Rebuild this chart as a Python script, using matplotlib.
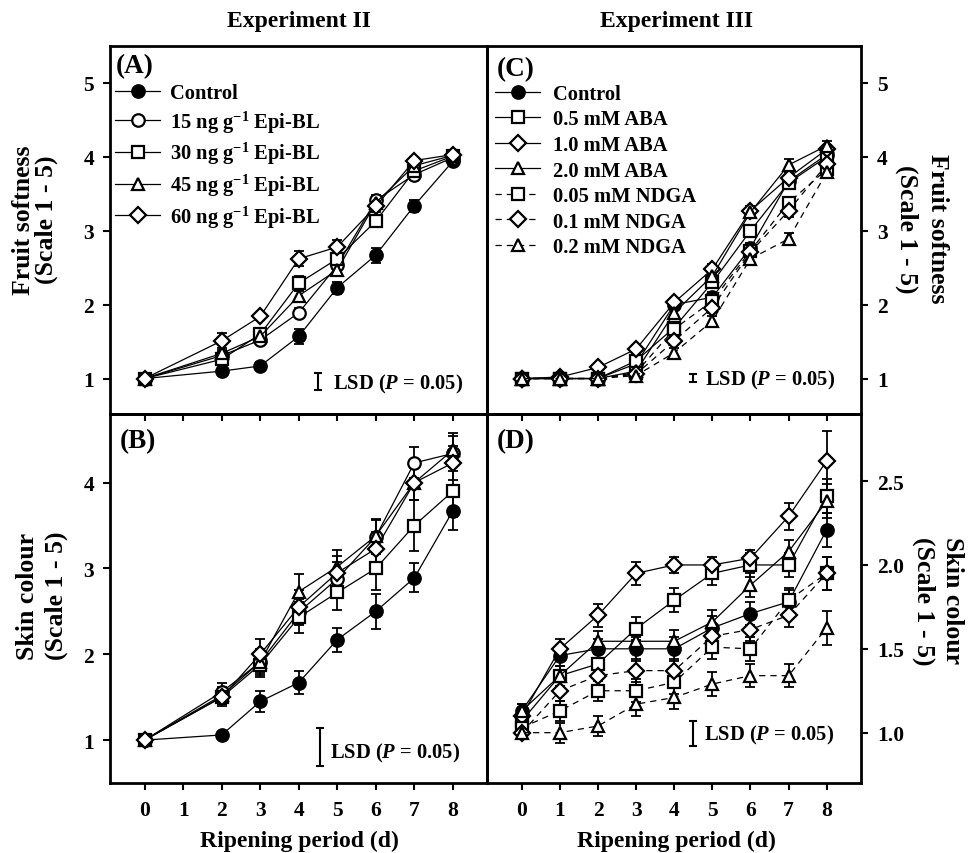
import matplotlib
matplotlib.use('Agg')
import matplotlib.pyplot as plt

plt.rcParams['font.family'] = ['Liberation Serif', 'DejaVu Serif']
plt.rcParams['font.weight'] = 'bold'
plt.rcParams['mathtext.fontset'] = 'custom'
plt.rcParams['mathtext.rm'] = 'Liberation Serif:bold'
plt.rcParams['mathtext.it'] = 'Liberation Serif:bold:italic'
plt.rcParams['mathtext.bf'] = 'Liberation Serif:bold'
plt.rcParams['mathtext.default'] = 'rm'

# ---------------- data ----------------
days_exp2 = [0, 2, 3, 4, 5, 6, 7, 8]
days_exp3 = [0, 1, 2, 3, 4, 5, 6, 7, 8]

labels_exp2 = ['Control', r'15 ng g$^{-1}$ Epi-BL', r'30 ng g$^{-1}$ Epi-BL',
               r'45 ng g$^{-1}$ Epi-BL', r'60 ng g$^{-1}$ Epi-BL']
labels_exp3 = ['Control', '0.5 mM ABA', '1.0 mM ABA', '2.0 mM ABA',
               '0.05 mM NDGA', '0.1 mM NDGA', '0.2 mM NDGA']

# (A) fruit softness, experiment II
soft2_control = [1.00, 1.10, 1.17, 1.57, 2.23, 2.67, 3.34, 3.94]
soft2_bl15 = [1.00, 1.31, 1.52, 1.89, 2.53, 3.41, 3.76, 3.99]
soft2_bl30 = [1.00, 1.26, 1.60, 2.29, 2.62, 3.13, 3.81, 4.01]
soft2_bl45 = [1.00, 1.34, 1.57, 2.12, 2.47, 3.38, 3.88, 4.02]
soft2_bl60 = [1.00, 1.51, 1.84, 2.62, 2.78, 3.33, 3.95, 4.03]
soft2_err_control = [0.02, 0.05, 0.06, 0.10, 0.08, 0.10, 0.08, 0.05]
soft2_err_bl15 = [0.02, 0.05, 0.05, 0.06, 0.08, 0.08, 0.08, 0.05]
soft2_err_bl30 = [0.02, 0.05, 0.06, 0.10, 0.08, 0.08, 0.06, 0.04]
soft2_err_bl45 = [0.02, 0.05, 0.06, 0.08, 0.08, 0.07, 0.06, 0.04]
soft2_err_bl60 = [0.02, 0.10, 0.05, 0.10, 0.10, 0.08, 0.05, 0.04]

# (B) skin colour, experiment II
skin2_control = [1.00, 1.06, 1.45, 1.67, 2.17, 2.50, 2.89, 3.67]
skin2_bl15 = [1.00, 1.56, 1.91, 2.49, 2.88, 3.37, 4.23, 4.34]
skin2_bl30 = [1.00, 1.50, 1.88, 2.43, 2.72, 3.00, 3.50, 3.90]
skin2_bl45 = [1.00, 1.52, 1.91, 2.73, 3.02, 3.38, 4.00, 4.38]
skin2_bl60 = [1.00, 1.50, 2.00, 2.55, 2.95, 3.23, 4.00, 4.23]
skin2_err_control = [0.02, 0.03, 0.12, 0.13, 0.14, 0.20, 0.17, 0.22]
skin2_err_bl15 = [0.02, 0.10, 0.15, 0.15, 0.20, 0.20, 0.18, 0.20]
skin2_err_bl30 = [0.02, 0.10, 0.15, 0.18, 0.20, 0.25, 0.30, 0.30]
skin2_err_bl45 = [0.02, 0.10, 0.13, 0.20, 0.20, 0.20, 0.20, 0.20]
skin2_err_bl60 = [0.02, 0.08, 0.18, 0.20, 0.20, 0.20, 0.20, 0.20]

# (C) fruit softness, experiment III
soft3_control = [1.00, 1.00, 1.00, 1.20, 2.00, 2.10, 2.77, 3.67, 4.03]
soft3_aba05 = [1.00, 1.00, 1.00, 1.24, 1.69, 2.30, 3.00, 3.65, 4.00]
soft3_aba10 = [1.00, 1.02, 1.15, 1.40, 2.03, 2.48, 3.27, 3.72, 4.10]
soft3_aba20 = [1.00, 1.00, 1.00, 1.10, 1.89, 2.39, 3.25, 3.89, 4.15]
soft3_ndga005 = [1.00, 1.00, 1.00, 1.08, 1.67, 2.05, 2.73, 3.38, 3.83]
soft3_ndga01 = [1.00, 1.00, 1.00, 1.06, 1.51, 1.96, 2.71, 3.27, 3.90]
soft3_ndga02 = [1.00, 1.00, 1.00, 1.04, 1.35, 1.78, 2.62, 2.89, 3.79]
soft3_err = [0.02, 0.02, 0.03, 0.06, 0.06, 0.07, 0.07, 0.08, 0.06]

# (D) skin colour, experiment III
skin3_control = [1.13, 1.46, 1.50, 1.50, 1.50, 1.625, 1.71, 1.78, 2.21]
skin3_aba05 = [1.07, 1.34, 1.41, 1.62, 1.79, 1.95, 2.00, 2.00, 2.41]
skin3_aba10 = [1.10, 1.50, 1.70, 1.95, 2.00, 2.00, 2.04, 2.29, 2.62]
skin3_aba20 = [1.13, 1.34, 1.545, 1.545, 1.545, 1.66, 1.88, 2.08, 2.38]
skin3_ndga005 = [1.03, 1.13, 1.25, 1.25, 1.30, 1.51, 1.50, 1.79, 1.95]
skin3_ndga01 = [1.00, 1.25, 1.34, 1.37, 1.37, 1.575, 1.615, 1.70, 1.95]
skin3_ndga02 = [1.00, 1.00, 1.04, 1.17, 1.21, 1.29, 1.34, 1.34, 1.625]
skin3_err = [0.04, 0.06, 0.06, 0.07, 0.07, 0.07, 0.07, 0.07, 0.10]
skin3_err_big = [0.04, 0.06, 0.07, 0.07, 0.05, 0.05, 0.05, 0.08, 0.18]

# LSD bars: (x, centre, half-length)
lsd_A = (4.5, 0.96, 0.11)
lsd_B = (4.54, 0.92, 0.22)
lsd_C = (4.5, 1.005, 0.055)
lsd_D = (4.5, 0.995, 0.075)

# ---------------- layout ----------------
W, H = 978, 854
fig = plt.figure(figsize=(W / 100, H / 100), dpi=100)

def fx(x):
    return x / W

def fy(y):
    return 1 - y / H

Lp, Mp, Rp = 110, 487.5, 861
Tp, Dp, Bp = 47, 415, 784

axA = fig.add_axes([fx(Lp), fy(Dp), fx(Mp) - fx(Lp), fy(Tp) - fy(Dp)])
axC = fig.add_axes([fx(Mp), fy(Dp), fx(Rp) - fx(Mp), fy(Tp) - fy(Dp)])
axB = fig.add_axes([fx(Lp), fy(Bp), fx(Mp) - fx(Lp), fy(Dp) - fy(Bp)])
axD = fig.add_axes([fx(Mp), fy(Bp), fx(Rp) - fx(Mp), fy(Dp) - fy(Bp)])

TICK_FS = 15.5
LEG_FS = 14.8

for ax in (axA, axB, axC, axD):
    ax.set_facecolor('none')
    for s in ax.spines.values():
        s.set_linewidth(2.0)
    ax.set_xlim(-0.9, 8.9)
    ax.set_xticks(range(0, 9))
    ax.tick_params(axis='both', direction='out', length=5, width=1.5,
                   labelsize=TICK_FS, pad=6.5)

for ax in (axA, axC):
    ax.set_ylim(0.52, 5.5)
    ax.set_yticks([1, 2, 3, 4, 5])
    ax.tick_params(axis='x', labelbottom=False)
axB.set_ylim(0.5, 4.8)
axB.set_yticks([1, 2, 3, 4])
axD.set_ylim(0.7, 2.9)
axD.set_yticks([1.0, 1.5, 2.0, 2.5])
axD.set_yticklabels(['1.0', '1.5', '2.0', '2.5'])
for ax in (axC, axD):
    ax.yaxis.tick_right()
    ax.tick_params(axis='y', left=False, right=True)
for ax in (axB, axD):
    ax.tick_params(axis='x', pad=7.5)

MS = {'o': 9.0, 's': 8.2, '^': 9.2, 'D': 7.8}

def series(ax, x, y, e, marker, filled, dashed, label):
    ls = (0, (5, 4)) if dashed else '-'
    ax.errorbar(x, y, yerr=e, fmt='none', ecolor='black', elinewidth=1.3,
                capsize=3.6, capthick=1.3, zorder=2)
    ax.plot(x, y, color='black', lw=0.9, linestyle=ls, marker=marker,
            ms=MS[marker], mfc='black' if filled else 'white', mec='black',
            mew=1.6, label=label, zorder=3)

# (A)
series(axA, days_exp2, soft2_control, soft2_err_control, 'o', True, False, labels_exp2[0])
series(axA, days_exp2, soft2_bl15, soft2_err_bl15, 'o', False, False, labels_exp2[1])
series(axA, days_exp2, soft2_bl30, soft2_err_bl30, 's', False, False, labels_exp2[2])
series(axA, days_exp2, soft2_bl45, soft2_err_bl45, '^', False, False, labels_exp2[3])
series(axA, days_exp2, soft2_bl60, soft2_err_bl60, 'D', False, False, labels_exp2[4])
# (B)
series(axB, days_exp2, skin2_control, skin2_err_control, 'o', True, False, None)
series(axB, days_exp2, skin2_bl15, skin2_err_bl15, 'o', False, False, None)
series(axB, days_exp2, skin2_bl30, skin2_err_bl30, 's', False, False, None)
series(axB, days_exp2, skin2_bl45, skin2_err_bl45, '^', False, False, None)
series(axB, days_exp2, skin2_bl60, skin2_err_bl60, 'D', False, False, None)
# (C)
series(axC, days_exp3, soft3_control, soft3_err, 'o', True, False, labels_exp3[0])
series(axC, days_exp3, soft3_aba05, soft3_err, 's', False, False, labels_exp3[1])
series(axC, days_exp3, soft3_aba10, soft3_err, 'D', False, False, labels_exp3[2])
series(axC, days_exp3, soft3_aba20, soft3_err, '^', False, False, labels_exp3[3])
series(axC, days_exp3, soft3_ndga005, soft3_err, 's', False, True, labels_exp3[4])
series(axC, days_exp3, soft3_ndga01, soft3_err, 'D', False, True, labels_exp3[5])
series(axC, days_exp3, soft3_ndga02, soft3_err, '^', False, True, labels_exp3[6])
# (D)
series(axD, days_exp3, skin3_control, skin3_err, 'o', True, False, None)
series(axD, days_exp3, skin3_aba05, skin3_err, 's', False, False, None)
series(axD, days_exp3, skin3_aba10, skin3_err_big, 'D', False, False, None)
series(axD, days_exp3, skin3_aba20, skin3_err, '^', False, False, None)
series(axD, days_exp3, skin3_ndga005, skin3_err, 's', False, True, None)
series(axD, days_exp3, skin3_ndga01, skin3_err, 'D', False, True, None)
series(axD, days_exp3, skin3_ndga02, skin3_err, '^', False, True, None)

# LSD bars and texts
LSD_TXT = r'LSD ($\mathit{P}$ = 0.05)'
for ax, lsd, tx, ty in ((axA, lsd_A, 4.88, 0.93), (axB, lsd_B, 4.81, 0.86),
                        (axC, lsd_C, 4.81, 0.99), (axD, lsd_D, 4.77, 0.99)):
    ax.errorbar([lsd[0]], [lsd[1]], yerr=[lsd[2]], fmt='none', ecolor='black',
                elinewidth=1.5, capsize=3.0, capthick=1.5)
    ax.text(tx, ty, LSD_TXT, fontsize=LEG_FS, ha='left', va='center')

# legends
axA.legend(loc='upper left', bbox_to_anchor=(0.013, 0.90), frameon=False,
           fontsize=LEG_FS, handlelength=2.2, handletextpad=0.5,
           labelspacing=0.27, borderpad=0, borderaxespad=0)
axC.legend(loc='upper left', bbox_to_anchor=(0.02, 0.897), frameon=False,
           fontsize=LEG_FS, handlelength=2.2, handletextpad=0.6,
           labelspacing=0.27, borderpad=0, borderaxespad=0)

# panel letters
PANEL_FS = 19.5
fig.text(fx(116), fy(67), '(A)', fontsize=PANEL_FS, ha='left', va='center')
fig.text(fx(120), fy(442), '(B)', fontsize=PANEL_FS, ha='left', va='center')
fig.text(fx(497), fy(70), '(C)', fontsize=PANEL_FS, ha='left', va='center')
fig.text(fx(497), fy(442), '(D)', fontsize=PANEL_FS, ha='left', va='center')

# titles
fig.text(fx(299), fy(22), 'Experiment II', fontsize=17, ha='center', va='center')
fig.text(fx(676), fy(21), 'Experiment III', fontsize=17, ha='center', va='center')

# x labels
fig.text(fx(299), fy(841), 'Ripening period (d)', fontsize=17, ha='center', va='center')
fig.text(fx(676), fy(841), 'Ripening period (d)', fontsize=17, ha='center', va='center')

# y labels
YL_FS = 18.5
fig.text(fx(35), fy(220), 'Fruit softness\n(Scale 1 - 5)', fontsize=YL_FS,
         rotation=90, ha='center', va='center', multialignment='center', linespacing=1.0)
fig.text(fx(42), fy(596), 'Skin colour\n(Scale 1 - 5)', fontsize=YL_FS,
         rotation=90, ha='center', va='center', multialignment='center', linespacing=1.3)
fig.text(fx(922), fy(229), 'Fruit softness\n(Scale 1 - 5)', fontsize=YL_FS,
         rotation=270, ha='center', va='center', multialignment='center', linespacing=1.4)
fig.text(fx(938), fy(601), 'Skin colour\n(Scale 1 - 5)', fontsize=YL_FS,
         rotation=270, ha='center', va='center', multialignment='center', linespacing=1.33)

fig.savefig('out.png', dpi=100)
